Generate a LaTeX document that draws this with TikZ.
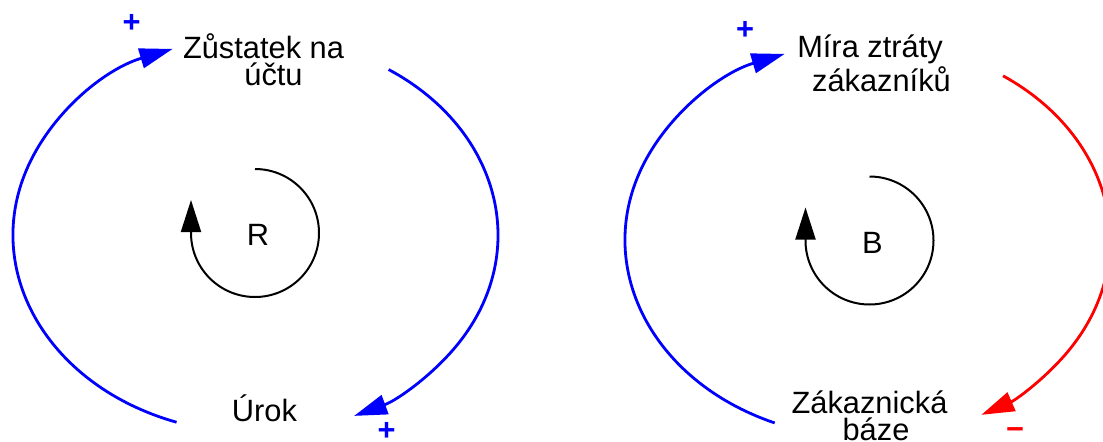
\documentclass[tikz,border=0pt]{standalone}
\usepackage{fontspec}
\setmainfont{Liberation Sans}
\usetikzlibrary{arrows.meta}

\begin{document}
\begin{tikzpicture}[x=0.5pt,y=0.5pt,
  lbl/.style={font=\fontsize{15.4}{13.5}\selectfont,inner sep=0pt,align=center,anchor=base},
  sgn/.style={font=\fontsize{15.4}{13}\selectfont\bfseries,inner sep=0pt},
  link/.style={line width=1.4pt,-{Triangle[length=16.5pt,width=10pt]}},
  turn/.style={line width=1pt,-{Triangle[length=16pt,width=10pt]}}]
\useasboundingbox (0,0) rectangle (1103,441);
\coordinate (cL) at (255.5,206);\coordinate (cR) at (867.5,201);
% left loop: balance <-> interest
\node[lbl] (zustatek) at (263.5,356) {Zůstatek na\\\hspace*{10pt}účtu};
\node[lbl] (urok) at (264.5,20) {Úrok};
\draw[link,blue] (cL) ++(251:242.5 and 198) arc[start angle=251,end angle=110,x radius=242.5,y radius=198];
\draw[link,blue] (cL) ++(56.7:242.5 and 198) arc[start angle=56.7,end angle=-66,x radius=242.5,y radius=198];
% right loop: churn rate <-> customer base
\node[lbl] (mira) at (870,350) {Míra ztráty\\\hspace*{11.5pt}zákazníků};
\node[lbl] (zakaznicka) at (869.5,1) {Zákaznická\\\hspace*{6.5pt}báze};
\draw[link,blue] (cR) ++(247.5:242.5 and 198) arc[start angle=247.5,end angle=110,x radius=242.5,y radius=198];
\draw[link,red] (cR) ++(56:242.5 and 198) arc[start angle=56,end angle=-62,x radius=242.5,y radius=198];
% polarities
\foreach \x/\y/\s/\c [count=\i] in {131.7/417.7/+/blue,386.7/9.3/+/blue,745/411/+/blue,1015/7/−/red} {\node[sgn,text=\c] (sign\i) at (\x,\y) {\s};}
% loop type markers
\foreach \cx/\cy/\lab/\nm in {255/208/R/markR,869.5/200.5/B/markB} {
  \node[sgn,font=\fontsize{15.4}{13}\selectfont] (\nm) at (\cx+3,\cy-2) {\lab};
  \draw[turn] (\cx,\cy) ++(90:64) arc[start angle=90,end angle=-180,radius=64] -- ++(0,33);
}
\end{tikzpicture}
\end{document}
